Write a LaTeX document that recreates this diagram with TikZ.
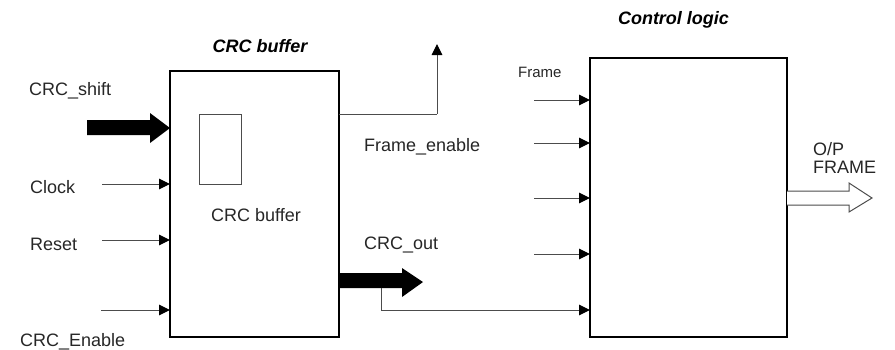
\documentclass[tikz,border=0pt]{standalone}
\usepackage{fontspec}
\setmainfont{Liberation Sans}
\usetikzlibrary{arrows.meta}
\begin{document}
\begin{tikzpicture}[x=1pt,y=-1pt,
  blk/.style={draw,line width=1.8pt,inner sep=0pt,outer sep=0pt},
  thin/.style={line width=1pt,draw=black!70},
  sig/.style={line width=1pt,draw=black!70,-{Triangle[length=11pt,width=10.5pt,black]}},
  lbl/.style={anchor=base west,inner sep=0pt,text=black!85,font=\fontsize{18}{21}\selectfont},
  small/.style={anchor=base west,inner sep=0pt,text=black!85,font=\fontsize{15}{18}\selectfont},
  ttl/.style={anchor=base,inner sep=0pt,font=\fontsize{18}{21}\selectfont\bfseries\itshape},
  fat/.style={fill=black,draw=none},
  hollow/.style={fill=white,draw=black!70,line width=1pt}]
\useasboundingbox (0,0) rectangle (895,349);
% boxes
\node[blk,minimum width=169pt,minimum height=266pt] (lbox) at (254.5,204) {};
\node[blk,minimum width=197pt,minimum height=279pt] (rbox) at (688.5,197.5) {};
\node[draw,thin,inner sep=0pt,minimum width=42pt,minimum height=70pt] (inner) at (220,149) {};
% titles
\node[ttl] (t1) at (260,52) {CRC buffer};
\node[ttl] (t2) at (673.5,24) {Control logic};
\node[lbl,anchor=base] (inl) at (256,221) {CRC buffer};
% left labels
\node[lbl] (lshift) at (29,95) {CRC\_shift};
\node[lbl] (lclock) at (30,193) {Clock};
\node[lbl] (lreset) at (30,250) {Reset};
\node[lbl] (lenable) at (20,346) {CRC\_Enable};
% left input arrows
\coordinate (sClock) at (102,184);
\coordinate (sReset) at (102,240);
\coordinate (sEn) at (101,310);
\draw[sig] (sClock) -- (sClock -| lbox.west);
\draw[sig] (sReset) -- (sReset -| lbox.west);
\draw[sig] (sEn) -- (sEn -| lbox.west);
% CRC_shift fat arrow
\fill[fat] (87,120) -- (150,120) -- (150,113) -- (lbox.west |- 0,128) -- (150,143) -- (150,135) -- (87,135) -- cycle;
% Frame_enable
\coordinate (fe1) at (lbox.east |- 0,114);
\coordinate (fe2) at (437,114);
\coordinate (fe3) at (437,44);
\draw[thin] (fe1) -- (fe2);
\draw[sig] (fe2) -- (fe3);
\node[lbl] (lfe) at (364,151) {Frame\_enable};
% CRC_out fat arrow
\fill[fat] (lbox.east |- 0,273) -- (402,273) -- (402,268) -- (423,282) -- (402,297) -- (402,288) -- (lbox.east |- 0,288) -- cycle;
\node[lbl] (lout) at (364,249) {CRC\_out};
\coordinate (co1) at (381,288);
\coordinate (co2) at (381,310);
\draw[thin] (co1) -- (co2);
\draw[sig] (co2) -- (co2 -| rbox.west);
% control logic inputs
\node[small] (lframe) at (518,77) {Frame};
\foreach \yy/\nm in {100/a,143/b,198/c,254/d}{
  \coordinate (r\nm) at (534,\yy);
  \draw[sig] (r\nm) -- (r\nm -| rbox.west);
}
% O/P FRAME hollow arrow
\draw[hollow] (rbox.east |- 0,191) -- (849,191) -- (849,183) -- (872,198) -- (849,212) -- (849,205) -- (rbox.east |- 0,205);
\node[lbl] (lop) at (813,155) {O/P};
\node[lbl] (lfr) at (813,173) {FRAME};
\end{tikzpicture}
\end{document}
